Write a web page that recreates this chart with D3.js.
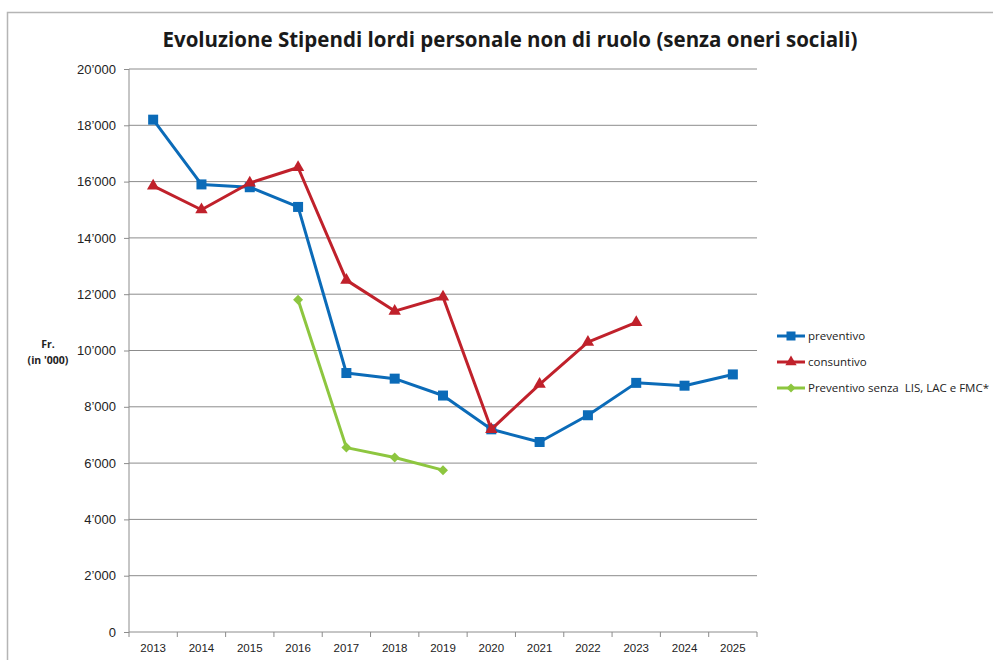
<!DOCTYPE html>
<html>
<head>
<meta charset="utf-8">
<script src="https://cdn.jsdelivr.net/npm/d3@7/dist/d3.min.js"></script>
<style>
  body { margin: 0; background: #fff; }
  svg { display: block; font-family: "Open Sans", "Noto Sans", sans-serif; }
</style>
</head>
<body>
<div id="chart"></div>
<script>
const years = ["2013","2014","2015","2016","2017","2018","2019","2020","2021","2022","2023","2024","2025"]
const preventivo = [18200, 15900, 15800, 15100, 9200, 9000, 8400, 7200, 6750, 7700, 8850, 8750, 9150]
const consuntivo = [15850, 15000, 15950, 16500, 12500, 11400, 11900, 7200, 8800, 10300, 11000, null, null]
const senzaLis = [null, null, null, 11800, 6550, 6200, 5750, null, null, null, null, null, null]
const yTicks = [0, 2000, 4000, 6000, 8000, 10000, 12000, 14000, 16000, 18000, 20000]
const seriesNames = ["preventivo", "consuntivo", "Preventivo senza  LIS, LAC e FMC*"]

const width = 993, height = 660
const plot = {left: 129, right: 757, top: 69, bottom: 632}
const colors = ["#0b6bb8", "#c0212b", "#8dc63f"]

var svg = d3.select("#chart").append("svg")
    .attr("width", width)
    .attr("height", height)

// chart frame
svg.append("rect")
    .attr("x", 7.5).attr("y", 12.5)
    .attr("width", width + 10).attr("height", height + 10)
    .attr("fill", "none")
    .attr("stroke", "#b5b5b5")
    .attr("stroke-width", 1.5)

svg.append("text")
    .attr("x", 510).attr("y", 47)
    .attr("text-anchor", "middle")
    .style("font-weight", "bold")
    .style("font-size", "21px")
    .attr("textLength", 695)
    .attr("lengthAdjust", "spacingAndGlyphs")
    .attr("fill", "#1a1a1a")
    .text("Evoluzione Stipendi lordi personale non di ruolo (senza oneri sociali)")

var x = d3.scaleBand()
    .domain(years)
    .range([plot.left, plot.right])

var y = d3.scaleLinear()
    .domain([0, 20000])
    .range([plot.bottom, plot.top])

// gridlines
svg.append("g")
    .selectAll("line")
    .data(yTicks.filter(d => d > 0))
    .enter()
    .append("line")
    .attr("x1", plot.left).attr("x2", plot.right)
    .attr("y1", d => y(d)).attr("y2", d => y(d))
    .attr("stroke", "#8c8c8c")
    .attr("stroke-width", 1)

const fmt = d => d === 0 ? "0" : d3.format(",")(d).replace(/,/g, "\u2019")

var yAxis = svg.append("g")
    .attr("transform", "translate(" + plot.left + ",0)")
    .call(d3.axisLeft(y).tickValues(yTicks).tickFormat(fmt).tickSize(5).tickPadding(8))
yAxis.select("path.domain").attr("stroke", "#8c8c8c").attr("d", "M0," + plot.top + "V" + plot.bottom)
yAxis.selectAll(".tick line").attr("stroke", "#8c8c8c")
yAxis.selectAll("text").style("font-size", "13px").attr("fill", "#222")

var xAxis = svg.append("g")
    .attr("transform", "translate(0," + plot.bottom + ")")
    .call(d3.axisBottom(x).tickSize(0).tickPadding(12))
xAxis.select("path.domain").attr("stroke", "#8c8c8c").attr("d", "M" + plot.left + ",0H" + plot.right)
xAxis.selectAll("text").style("font-size", "11.5px").attr("fill", "#222")

// category boundary ticks
svg.append("g")
    .selectAll("line")
    .data(years.concat(["end"]))
    .enter()
    .append("line")
    .attr("x1", (d, i) => plot.left + i * x.bandwidth())
    .attr("x2", (d, i) => plot.left + i * x.bandwidth())
    .attr("y1", plot.bottom).attr("y2", plot.bottom + 5)
    .attr("stroke", "#8c8c8c")

// axis title
var ylab = svg.append("text")
    .attr("text-anchor", "middle")
    .style("font-weight", "bold")
    .style("font-size", "10.5px")
    .attr("fill", "#222")
ylab.append("tspan").attr("x", 48).attr("y", 348).text("Fr.")
ylab.append("tspan").attr("x", 48).attr("y", 364).text("(in '000)")

const cx = i => x(years[i]) + x.bandwidth() / 2

function marker(g, type, color, size) {
    if (type === 0) {
        g.append("rect").attr("x", -size/2).attr("y", -size/2)
            .attr("width", size).attr("height", size).attr("fill", color)
    } else if (type === 1) {
        g.append("path").attr("d", d3.symbol(d3.symbolTriangle, size * size * 0.55)()).attr("fill", color)
    } else {
        var h = size / 2
        g.append("path").attr("d", "M0," + (-h) + "L" + h + ",0L0," + h + "L" + (-h) + ",0Z").attr("fill", color)
    }
}

const allSeries = [preventivo, consuntivo, senzaLis]
const sizes = [10, 11, 10]

allSeries.forEach(function(vals, s) {
    var pts = vals.map((v, i) => ({i: i, v: v})).filter(d => d.v !== null)
    var line = d3.line().x(d => cx(d.i)).y(d => y(d.v))
    svg.append("path")
        .datum(pts)
        .attr("d", line)
        .attr("fill", "none")
        .attr("stroke", colors[s])
        .attr("stroke-width", 3)
        .attr("stroke-linejoin", "round")
    pts.forEach(function(d) {
        var g = svg.append("g").attr("transform", "translate(" + cx(d.i) + "," + y(d.v) + ")")
        marker(g, s, colors[s], sizes[s])
    })
})

// legend
var legend = svg.append("g")
seriesNames.forEach(function(name, s) {
    var ly = 336 + s * 26
    legend.append("line")
        .attr("x1", 777).attr("x2", 805)
        .attr("y1", ly).attr("y2", ly)
        .attr("stroke", colors[s]).attr("stroke-width", 3)
    var g = legend.append("g").attr("transform", "translate(791," + ly + ")")
    marker(g, s, colors[s], sizes[s] - 1)
    legend.append("text")
        .attr("x", 808).attr("y", ly + 4)
        .style("font-size", "11.5px")
        .style("white-space", "pre")
        .attr("fill", "#222")
        .text(name)
})
</script>
</body>
</html>
